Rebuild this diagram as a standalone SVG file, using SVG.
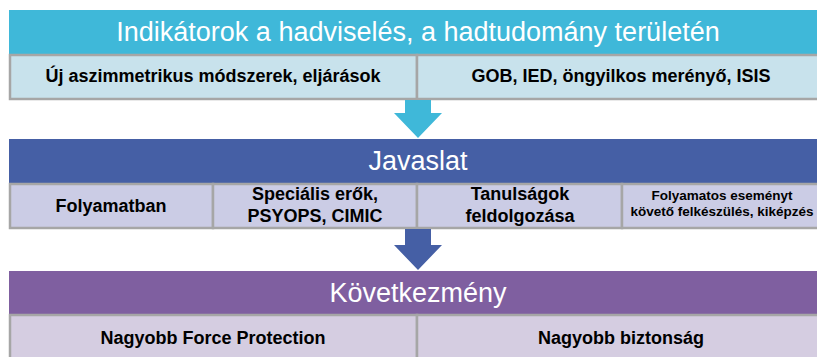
<svg xmlns="http://www.w3.org/2000/svg" width="817" height="357" viewBox="0 0 817 357">
<style>
.hd{font-family:"Liberation Sans",Arial,sans-serif;font-size:27px;fill:#fff;text-anchor:middle}
.cl{font-family:"Liberation Sans",Arial,sans-serif;font-size:18px;font-weight:bold;fill:#000;text-anchor:middle}
.sm{font-size:13.5px}
.c1{fill:#C8E2EC;stroke:#A6A6A6;stroke-width:2.5}
.c2{fill:#CBCCE5;stroke:#A6A6A6;stroke-width:2.5}
.c3{fill:#D5CDE1;stroke:#A6A6A6;stroke-width:2.5}
</style>
<rect width="817" height="357" fill="#fff"/>
<g id="header1">
<rect x="9" y="10" width="810" height="44" fill="#3FB8D9"/>
<text class="hd" x="418" y="41">Indikátorok a hadviselés, a hadtudomány területén</text>
</g>
<g id="cell1a"><rect class="c1" x="10" y="55" width="407" height="44"/><text class="cl" x="213" y="82">Új aszimmetrikus módszerek, eljárások</text></g>
<g id="cell1b"><rect class="c1" x="417" y="55" width="402" height="44"/><text class="cl" x="621" y="82">GOB, IED, öngyilkos merényő, ISIS</text></g>
<g id="header2">
<rect x="9" y="139" width="810" height="44" fill="#455FA5"/>
<text class="hd" x="418" y="170">Javaslat</text>
</g>
<g id="cell2a"><rect class="c2" x="10" y="184" width="203" height="44"/><text class="cl" x="111" y="212">Folyamatban</text></g>
<g id="cell2b"><rect class="c2" x="213" y="184" width="204" height="44"/><text class="cl" x="315" y="200">Speciális erők,</text><text class="cl" x="315" y="222">PSYOPS, CIMIC</text></g>
<g id="cell2c"><rect class="c2" x="417" y="184" width="205" height="44"/><text class="cl" x="520" y="200">Tanulságok</text><text class="cl" x="520" y="222">feldolgozása</text></g>
<g id="cell2d"><rect class="c2" x="622" y="184" width="197" height="44"/><text class="cl sm" x="722" y="200">Folyamatos eseményt</text><text class="cl sm" x="722" y="216">követő felkészülés, kiképzés</text></g>
<g id="header3">
<rect x="9" y="271" width="810" height="43" fill="#7F5FA0"/>
<text class="hd" x="418" y="302">Következmény</text>
</g>
<g id="cell3a"><rect class="c3" x="10" y="315" width="407" height="50"/><text class="cl" x="213" y="344">Nagyobb Force Protection</text></g>
<g id="cell3b"><rect class="c3" x="417" y="315" width="402" height="50"/><text class="cl" x="621" y="344">Nagyobb biztonság</text></g>
<g id="connectors">
<polygon points="405,100 431,100 431,113 442,113 418,138 394,113 405,113" fill="#3FB8D9"/>
<polygon points="405,229 431,229 431,245 442,245 418,270 394,245 405,245" fill="#455FA5"/>
</g>
</svg>
